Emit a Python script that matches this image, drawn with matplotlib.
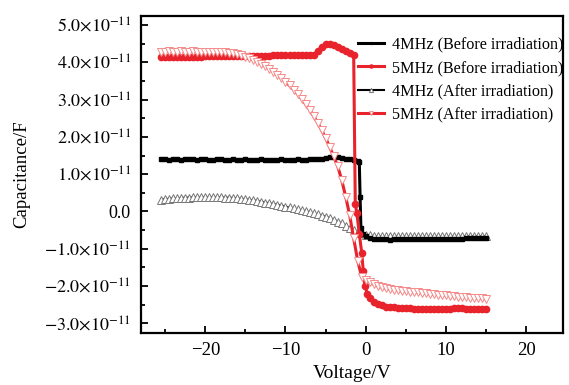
import matplotlib
matplotlib.use("Agg")
import matplotlib.pyplot as plt
from matplotlib.ticker import MultipleLocator

plt.rcParams['font.family'] = ['Liberation Serif', 'DejaVu Serif']
plt.rcParams['mathtext.fontset'] = 'stix'

# --- DATA (capacitance in units of 1e-11 F) ---
v_grid = [-25.5, -25.0, -24.5, -24.0, -23.5, -23.0, -22.5, -22.0, -21.5, -21.0,
          -20.5, -20.0, -19.5, -19.0, -18.5, -18.0, -17.5, -17.0, -16.5, -16.0,
          -15.5, -15.0, -14.5, -14.0, -13.5, -13.0, -12.5, -12.0, -11.5, -11.0,
          -10.5, -10.0, -9.5, -9.0, -8.5, -8.0, -7.5, -7.0, -6.5, -6.0,
          -5.5, -5.0, -4.5, -4.0, -3.5, -3.0, -2.5, -2.0, -1.5, -1.0,
          -0.5, 0.0, 0.5, 1.0, 1.5, 2.0, 2.5, 3.0, 3.5, 4.0,
          4.5, 5.0, 5.5, 6.0, 6.5, 7.0, 7.5, 8.0, 8.5, 9.0,
          9.5, 10.0, 10.5, 11.0, 11.5, 12.0, 12.5, 13.0, 13.5, 14.0,
          14.5, 15.0]

# 4MHz before irradiation
v_4b = [-25.5, -25.0, -24.5, -24.0, -23.5, -23.0, -22.5, -22.0, -21.5, -21.0,
        -20.5, -20.0, -19.5, -19.0, -18.5, -18.0, -17.5, -17.0, -16.5, -16.0,
        -15.5, -15.0, -14.5, -14.0, -13.5, -13.0, -12.5, -12.0, -11.5, -11.0,
        -10.5, -10.0, -9.5, -9.0, -8.5, -8.0, -7.5, -7.0, -6.5, -6.0,
        -5.5, -5.0, -4.5, -4.0, -3.5, -3.0, -2.5, -2.0, -1.5, -1.0,
        -0.8, -0.7, -0.6, -0.3, 0.0, 0.5, 1.0, 1.5, 2.0, 2.5, 3.0, 3.5, 4.0,
        4.5, 5.0, 5.5, 6.0, 6.5, 7.0, 7.5, 8.0, 8.5, 9.0,
        9.5, 10.0, 10.5, 11.0, 11.5, 12.0, 12.5, 13.0, 13.5, 14.0,
        14.5, 15.0]
c_4b = [1.40, 1.40, 1.39, 1.40, 1.40, 1.39, 1.40, 1.40, 1.40, 1.39,
        1.40, 1.40, 1.39, 1.39, 1.40, 1.40, 1.39, 1.39, 1.40, 1.39,
        1.39, 1.40, 1.39, 1.39, 1.39, 1.40, 1.39, 1.39, 1.39, 1.39,
        1.40, 1.39, 1.39, 1.39, 1.40, 1.39, 1.39, 1.40, 1.40, 1.40,
        1.41, 1.43, 1.46, 1.47, 1.46, 1.44, 1.42, 1.40, 1.38, 1.36,
        1.33, 0.40, -0.45, -0.60, -0.66, -0.72, -0.74, -0.75, -0.75, -0.75, -0.76, -0.75, -0.75,
        -0.75, -0.75, -0.74, -0.75, -0.75, -0.74, -0.74, -0.74, -0.74, -0.74,
        -0.74, -0.73, -0.73, -0.73, -0.73, -0.73, -0.72, -0.72, -0.72, -0.72,
        -0.72, -0.71]

# 5MHz before irradiation
v_5b = [-25.5, -25.0, -24.5, -24.0, -23.5, -23.0, -22.5, -22.0, -21.5, -21.0,
        -20.5, -20.0, -19.5, -19.0, -18.5, -18.0, -17.5, -17.0, -16.5, -16.0,
        -15.5, -15.0, -14.5, -14.0, -13.5, -13.0, -12.5, -12.0, -11.5, -11.0,
        -10.5, -10.0, -9.5, -9.0, -8.5, -8.0, -7.5, -7.0, -6.5, -6.0,
        -5.5, -5.0, -4.5, -4.0, -3.5, -3.0, -2.5, -2.0, -1.5,
        -1.3, -1.1, -0.8, -0.5, -0.3, -0.1, 0.2, 0.5, 1.0, 1.5, 2.0, 2.5, 3.0, 3.5, 4.0,
        4.5, 5.0, 5.5, 6.0, 6.5, 7.0, 7.5, 8.0, 8.5, 9.0,
        9.5, 10.0, 10.5, 11.0, 11.5, 12.0, 12.5, 13.0, 13.5, 14.0,
        14.5, 15.0]
c_5b = [4.13, 4.13, 4.14, 4.14, 4.14, 4.14, 4.15, 4.15, 4.15, 4.15,
        4.15, 4.16, 4.16, 4.16, 4.16, 4.16, 4.17, 4.17, 4.17, 4.17,
        4.17, 4.17, 4.18, 4.18, 4.18, 4.18, 4.18, 4.18, 4.19, 4.19,
        4.19, 4.19, 4.19, 4.19, 4.19, 4.19, 4.19, 4.19, 4.20, 4.30,
        4.42, 4.48, 4.50, 4.47, 4.42, 4.36, 4.30, 4.24, 4.19,
        0.20, -0.05, -0.60, -1.10, -1.60, -2.00, -2.20, -2.32, -2.42, -2.48, -2.52, -2.55, -2.56, -2.57, -2.58,
        -2.59, -2.60, -2.60, -2.61, -2.61, -2.61, -2.62, -2.62, -2.62, -2.62,
        -2.62, -2.62, -2.61, -2.60, -2.59, -2.60, -2.62, -2.62, -2.62, -2.62,
        -2.62, -2.62]

# 4MHz after irradiation
c_4a = [0.32, 0.33, 0.34, 0.35, 0.35, 0.36, 0.37, 0.37, 0.38, 0.38,
        0.38, 0.38, 0.38, 0.38, 0.38, 0.38, 0.37, 0.37, 0.36, 0.35,
        0.34, 0.33, 0.31, 0.30, 0.28, 0.26, 0.24, 0.22, 0.20, 0.18,
        0.16, 0.13, 0.11, 0.08, 0.06, 0.03, 0.01, -0.02, -0.05, -0.08,
        -0.11, -0.14, -0.18, -0.22, -0.27, -0.32, -0.38, -0.44, -0.50, -0.55,
        -0.59, -0.62, -0.64, -0.66, -0.66, -0.67, -0.67, -0.67, -0.67, -0.67,
        -0.67, -0.67, -0.67, -0.67, -0.67, -0.67, -0.67, -0.67, -0.67, -0.67,
        -0.67, -0.67, -0.67, -0.67, -0.67, -0.67, -0.66, -0.66, -0.66, -0.66,
        -0.66, -0.66]

# 5MHz after irradiation
c_5a = [4.28, 4.28, 4.29, 4.28, 4.28, 4.29, 4.28, 4.28, 4.29, 4.28,
        4.28, 4.28, 4.28, 4.28, 4.28, 4.27, 4.27, 4.26, 4.24, 4.22,
        4.19, 4.15, 4.11, 4.06, 4.01, 3.95, 3.89, 3.82, 3.75, 3.66,
        3.57, 3.48, 3.38, 3.27, 3.15, 3.02, 2.88, 2.73, 2.56, 2.38,
        2.18, 1.97, 1.73, 1.48, 1.22, 0.85, 0.40, -0.10, -0.72, -1.32,
        -1.76, -1.84, -1.90, -1.95, -2.00, -2.03, -2.06, -2.08, -2.10, -2.11,
        -2.13, -2.14, -2.15, -2.16, -2.17, -2.18, -2.19, -2.21, -2.22, -2.23,
        -2.24, -2.25, -2.26, -2.27, -2.28, -2.29, -2.30, -2.31, -2.32, -2.33,
        -2.33, -2.34]

y_ticks = [-3, -2, -1, 0, 1, 2, 3, 4, 5]
y_labels = [r'$-3.0{\times}10^{-11}$', r'$-2.0{\times}10^{-11}$', r'$-1.0{\times}10^{-11}$',
            '0.0', r'$1.0{\times}10^{-11}$', r'$2.0{\times}10^{-11}$',
            r'$3.0{\times}10^{-11}$', r'$4.0{\times}10^{-11}$', r'$5.0{\times}10^{-11}$']
x_ticks = [-20, -10, 0, 10, 20]
x_labels = ['\u221220', '\u221210', '0', '10', '20']

RED = '#e8232b'
SCALE = 1e-11

fig = plt.figure(figsize=(5.69, 3.85), dpi=100)
ax = fig.add_axes([0.2473, 0.1358, 0.7422, 0.8226])

ax.plot(v_4b, [c * SCALE for c in c_4b], color='black', lw=2.2, marker='s', ms=2.5,
        label='4MHz (Before irradiation)', zorder=3)
ax.plot(v_5b, [c * SCALE for c in c_5b], color=RED, lw=2.2, marker='o', ms=4.5,
        label='5MHz (Before irradiation)', zorder=4)
ax.plot(v_grid, [c * SCALE for c in c_4a], color='black', lw=1.5, marker='^', ms=6,
        mfc='white', mec='#777777', mew=0.7, label='4MHz (After irradiation)', zorder=2)
ax.plot(v_grid, [c * SCALE for c in c_5a], color=RED, lw=2.2, marker='v', ms=5.5,
        mfc='white', mec='#f58a8a', mew=0.7, label='5MHz (After irradiation)', zorder=5)

ax.set_xlim(-28.05, 24.6)
ax.set_ylim(-3.25 * SCALE, 5.24 * SCALE)

ax.set_xticks(x_ticks)
ax.set_xticklabels(x_labels)
ax.set_yticks([t * SCALE for t in y_ticks])
ax.set_yticklabels(y_labels)
ax.xaxis.set_minor_locator(MultipleLocator(5))
ax.yaxis.set_minor_locator(MultipleLocator(0.5 * SCALE))
ax.tick_params(which='both', direction='in', top=False, right=False, width=1.3)
ax.tick_params(axis='x', which='major', labelsize=13.5, pad=7)
ax.tick_params(axis='y', which='major', labelsize=13, pad=7)
ax.tick_params(which='major', length=5)
ax.tick_params(which='minor', length=3)
for sp in ax.spines.values():
    sp.set_linewidth(1.6)

ax.set_xlabel('Voltage/V', fontsize=14, labelpad=4)
ax.set_ylabel('Capacitance/F', fontsize=13.5)
ax.yaxis.set_label_coords(-0.262, 0.5)

ax.legend(loc='upper left', bbox_to_anchor=(0.5, 0.955), frameon=False, fontsize=11.6,
          handlelength=1.6, handletextpad=0.5, labelspacing=0.45, numpoints=1, markerscale=0.5,
          borderaxespad=0)

fig.savefig('out.png', dpi=100)
